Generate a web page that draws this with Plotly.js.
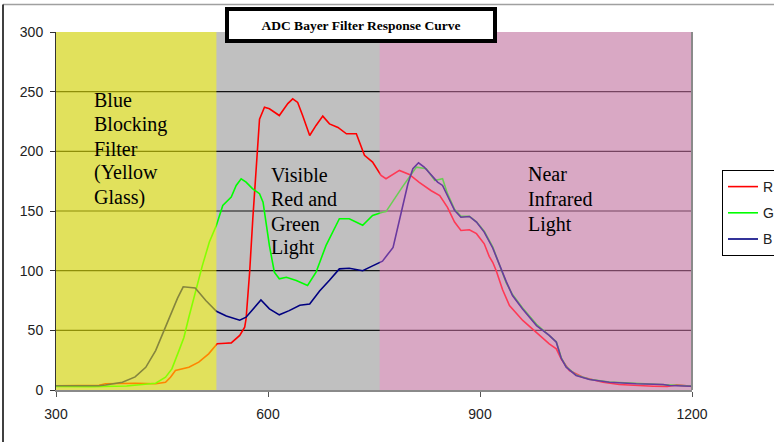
<!DOCTYPE html>
<html>
<head>
<meta charset="utf-8">
<script src="https://cdn.plot.ly/plotly-3.0.1.min.js"></script>
<style>html,body{margin:0;padding:0;background:#fff;}#chart{width:774px;height:442px;}</style>
</head>
<body>
<div id="chart"></div>
<script>
// ---- data ----
const chartTitle = 'ADC Bayer Filter Response Curve';
const xTicks = [300, 600, 900, 1200];
const yTicks = [0, 50, 100, 150, 200, 250, 300];
const gridValues = [50, 100, 150, 200, 250];

const redX = [300,340,361,370,394,412,441,455,462,469,488,502,516,528,540,548,560,567,569,574,578.5,583,588,595,602,616,628,635,642,649,659,668,677.5,687,699,711,725,736.5,748,760,767,786,800,814,831,843,854,864,873,885,895,906,913,918,923,932,941.7,960.5,979.5,998,1008,1015,1026.6,1045.5,1074,1097,1145,1165,1178,1192,1200];
const redY = [3.5,3.5,4,5.2,5.7,5.7,5.2,6.5,10.7,16.3,19.1,23.3,30.3,38.7,39.2,39.5,45.7,52.7,59.7,98.7,143.5,185.4,227,237,235.7,230,240,244,241,230,213.3,221.7,229.5,223,220,214.7,214.7,196.6,191,179.8,177,184,180.6,174,167,163,153,140.7,133.7,134.3,131,122.5,112,107,100,84,70.8,58.3,48.5,38.7,34.5,26,16.3,10.7,6.5,4.6,3.2,3.0,4.3,3.2,3];

const greenX = [300,350,400,441,455,464,474,481,488,495,502,507,517,527,536,548,555,562,569,578,588,593,602,609,616,626,640,656,668,682,701,715,734,748,762,767,790,810,824,836,847,854,864,873,885,895,906,918,930,937,946,960,980,998,1008,1015,1022,1036,1055,1083,1121,1159,1192,1200];
const greenY = [3,2.8,3.3,5.7,10.7,17.7,33,44,61,77.8,94.5,104,124,138,154.6,161.6,171.4,177,174.2,168.7,164.5,157.4,121,98.7,93.2,94.5,91.8,87.6,98.7,121,143.5,143.5,138,146.3,149,149.5,170,186.8,185.4,175.6,177,164.5,151.5,145.5,145.5,141,133,120,101,90,80,69,55,46,40.5,27,19.5,12.5,9,6.7,5.4,4.7,3.5,3.4];

const blueX = [300,330,360,370,385,394,412,427,441,453,465,472,480,497,512,527,541,560,569,590,602,616,630,645,659,673,687,701,715,734,748,762,777,784,791,798,805,813,821,831,840,847,854,864,873,885,895,906,918,922,930,937,946,960,980,998,1008,1015,1022,1036,1055,1083,1121,1159,1168,1192,1200];
const blueY = [3.5,3.3,3.6,4.2,5.5,6.5,11,19,33,50,66,77,86.5,85.5,75,66,62,58.5,61,75.5,68,63,66.5,71,72,83,92,101.5,102,100,104,108,119.5,136.5,156,172.8,185.4,190.4,186.8,179.8,174.2,171.4,163,150.5,144.8,145.4,140.7,132.3,119,113,101,91,79.2,68,54,45.7,40,26.5,19.1,12.2,8.8,6.5,5.2,4.6,3.8,3.2,3.2];

const regionEdges = [300, 527, 758, 1200];   // yellow | gray | pink
const seriesNames = ['R', 'G', 'B'];
const block1 = ['Blue', 'Blocking', 'Filter', '(Yellow', 'Glass)'];
const block2 = ['Visible', 'Red and', 'Green', 'Light'];
const block3 = ['Near', 'Infrared', 'Light'];

// ---- layout helpers (pixel -> paper) ----
const M = {l: 56, r: 82, t: 32, b: 52};
const W = 774, H = 442;
const PW = W - M.l - M.r, PH = H - M.t - M.b;
const px = x => (x - M.l) / PW;
const py = y => (H - M.b - y) / PH;

const traces = [
  {x: redX, y: redY, name: seriesNames[0], color: '#ff0000'},
  {x: greenX, y: greenY, name: seriesNames[1], color: '#00ff00'},
  {x: blueX, y: blueY, name: seriesNames[2], color: '#000080'}
].map((s, i) => ({
  type: 'scatter', mode: 'lines', x: s.x, y: s.y, name: s.name,
  legendgroup: 'g' + i,
  line: {color: s.color, width: 1.6},
  hoverinfo: 'skip'
}));

const shapes = [];
gridValues.forEach(v => shapes.push({
  type: 'line', xref: 'paper', yref: 'y', x0: 0, x1: 1, y0: v, y1: v,
  line: {color: '#141414', width: 1.2}, layer: 'below'
}));
// translucent overlays (drawn over the curves)
shapes.push({type: 'rect', xref: 'x', yref: 'y', x0: regionEdges[0], x1: regionEdges[1], y0: 0, y1: 300,
  fillcolor: '#ffff00', opacity: 0.52, line: {width: 0}, layer: 'above'});
shapes.push({type: 'rect', xref: 'x', yref: 'y', x0: regionEdges[2], x1: regionEdges[3], y0: 0, y1: 300,
  fillcolor: '#fc89ca', opacity: 0.42, line: {width: 0}, layer: 'above'});
// plot right border
shapes.push({type: 'line', xref: 'paper', yref: 'paper', x0: 1, x1: 1, y0: 0, y1: 1,
  line: {color: '#8a8a8a', width: 2}, layer: 'above'});
// outer chart frame
shapes.push({type: 'line', xref: 'paper', yref: 'paper', x0: px(3), x1: px(780), y0: py(4.5), y1: py(4.5),
  line: {color: '#a0a0a0', width: 1.5}, layer: 'above'});
shapes.push({type: 'line', xref: 'paper', yref: 'paper', x0: px(3), x1: px(3), y0: py(4.5), y1: py(450),
  line: {color: '#000', width: 1.5}, layer: 'above'});

const serif = 'Liberation Serif, Times New Roman, serif';
const annotations = [];
function addBlock(lines, left, firstCenter, step) {
  lines.forEach((t, i) => annotations.push({
    xref: 'paper', yref: 'paper', x: px(left), y: py(firstCenter + i * step),
    xanchor: 'left', yanchor: 'middle', showarrow: false, text: t,
    font: {family: serif, size: 20, color: '#000'}
  }));
}
addBlock(block1, 92, 100, 24.3);
addBlock(block2, 269, 175, 24.3);
addBlock(block3, 526, 174, 25);

annotations.push({
  xref: 'paper', yref: 'paper', x: px(361), y: py(25), xanchor: 'center', yanchor: 'middle',
  showarrow: false, text: '<b>' + chartTitle + '</b>',
  font: {family: serif, size: 13.5, color: '#000'},
  bgcolor: '#ffffff', bordercolor: '#000000', borderwidth: 4, borderpad: 0,
  width: 264, height: 28
});

const layout = {
  width: W, height: H,
  margin: {l: M.l, r: M.r, t: M.t, b: M.b, autoexpand: false},
  paper_bgcolor: '#ffffff',
  plot_bgcolor: '#c0c0c0',
  showlegend: true,
  legend: {
    x: px(722), y: py(170), xanchor: 'left', yanchor: 'top',
    bgcolor: '#ffffff', bordercolor: '#000000', borderwidth: 1,
    font: {family: 'Liberation Sans, Arial, sans-serif', size: 14, color: '#222'},
    traceorder: 'grouped', tracegroupgap: 5
  },
  xaxis: {
    range: [300, 1200], tickvals: xTicks, ticktext: xTicks.map(String),
    showgrid: false, zeroline: false,
    showline: true, linecolor: '#8a8a8a', linewidth: 2,
    ticks: 'outside', ticklen: 5, tickcolor: '#555', tickwidth: 1,
    ticklabelstandoff: 5,
    tickfont: {family: 'Liberation Sans, Arial, sans-serif', size: 14, color: '#222'},
    fixedrange: true
  },
  yaxis: {
    range: [0, 300], tickvals: yTicks, ticktext: yTicks.map(String),
    showgrid: false, zeroline: false,
    showline: true, linecolor: '#333', linewidth: 1,
    ticks: 'outside', ticklen: 5, tickcolor: '#333', tickwidth: 1,
    ticklabelstandoff: 4,
    tickfont: {family: 'Liberation Sans, Arial, sans-serif', size: 14, color: '#222'},
    fixedrange: true
  },
  shapes: shapes,
  annotations: annotations
};

Plotly.newPlot('chart', traces, layout, {staticPlot: true, displayModeBar: false});
</script>
</body>
</html>
